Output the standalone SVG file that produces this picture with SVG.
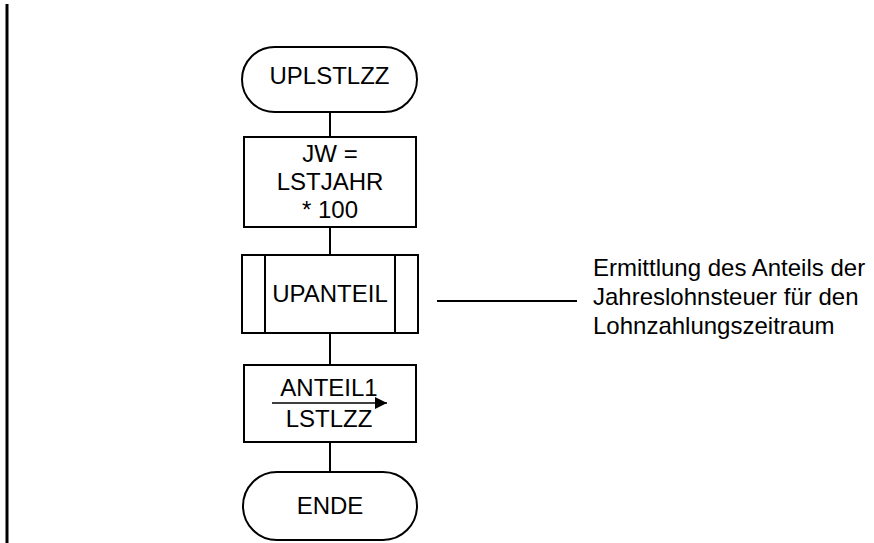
<svg xmlns="http://www.w3.org/2000/svg" width="874" height="543" viewBox="0 0 874 543">
<defs>
<style>
.s{fill:#fff;stroke:#000;stroke-width:2}
.l{stroke:#000;stroke-width:2;fill:none}
.t{font-family:"Liberation Sans",Arial,sans-serif;font-size:24px;fill:#000;text-anchor:middle}
.a{font-family:"Liberation Sans",Arial,sans-serif;font-size:24px;fill:#000}
</style>
<marker id="ah" viewBox="0 0 10 10" refX="10" refY="5" markerWidth="14" markerHeight="12" markerUnits="userSpaceOnUse" orient="auto"><path d="M0,0 L10,5 L0,10 Z" fill="#000"/></marker>
</defs>
<rect x="5.5" y="4" width="3" height="539" fill="#000"/>
<g id="connectors">
<line class="l" x1="330" y1="112" x2="330" y2="137"/>
<line class="l" x1="330" y1="227" x2="330" y2="255"/>
<line class="l" x1="330" y1="333" x2="330" y2="365"/>
<line class="l" x1="330" y1="442" x2="330" y2="472"/>
<line class="l" x1="437" y1="301" x2="577" y2="301"/>
</g>
<g id="start">
<rect class="s" x="242" y="47" width="175" height="65" rx="32.5" ry="32.5"/>
<text class="t" x="329.5" y="84">UPLSTLZZ</text>
</g>
<g id="jw">
<rect class="s" x="244" y="137" width="172" height="90"/>
<text class="t" x="330" y="162">JW =</text>
<text class="t" x="330" y="190">LSTJAHR</text>
<text class="t" x="330" y="218">* 100</text>
</g>
<g id="upanteil">
<rect class="s" x="242" y="255" width="176" height="78"/>
<line class="l" x1="265" y1="255" x2="265" y2="333"/>
<line class="l" x1="395" y1="255" x2="395" y2="333"/>
<text class="t" x="330" y="302">UPANTEIL</text>
</g>
<g id="anteil">
<rect class="s" x="244" y="365" width="172" height="77"/>
<text class="t" x="329" y="396">ANTEIL1</text>
<line x1="272" y1="403" x2="387" y2="403" stroke="#000" stroke-width="1.5" marker-end="url(#ah)"/>
<text class="t" x="329" y="427">LSTLZZ</text>
</g>
<g id="ende">
<rect class="s" x="243" y="472" width="174" height="68" rx="34" ry="34"/>
<text class="t" x="330" y="514">ENDE</text>
</g>
<g id="note">
<text class="a" x="593" y="276">Ermittlung des Anteils der</text>
<text class="a" x="593" y="305">Jahreslohnsteuer für den</text>
<text class="a" x="593" y="334">Lohnzahlungszeitraum</text>
</g>
</svg>
